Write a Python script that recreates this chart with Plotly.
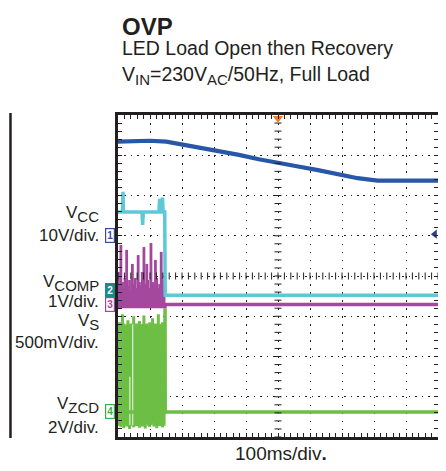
import numpy as np
import plotly.graph_objects as go

# time in ms (100 ms/div, 10 div), amplitude in screen divisions (8 div)
top_t = [0, 99, 151, 192, 254, 316, 378, 440, 502, 563, 625, 687, 749, 811, 873, 1000]
top_v = [3.34, 3.36, 3.34, 3.28, 3.21, 3.11, 3.01, 2.90, 2.80, 2.72, 2.63, 2.53, 2.43, 2.37, 2.37, 2.37]

vcc_t = [0, 14, 15.5, 17, 75, 77, 79, 128, 130, 132, 137, 139, 141, 146, 147.5, 149, 1000]
vcc_v = [1.59, 1.59, 2.09, 1.59, 1.59, 1.27, 1.59, 1.59, 1.92, 1.59, 1.59, 1.95, 1.59, 1.59, -0.48, -0.48, -0.48]

vcomp_t = [0, 147, 148, 1000]
vcomp_v = [-0.76, -0.76, -0.71, -0.71]

vzcd_t = [0, 146, 147, 147.5, 1000]
vzcd_v = [-3.38, -3.38, -0.80, -3.38, -3.38]

# switching burst before the shutdown (sampled envelopes)
burst_t = [1, 5, 9, 14, 18, 22, 27, 31, 36, 40, 45, 49, 54, 58, 63, 67, 72, 76, 81, 85,
           90, 94, 99, 103, 108, 112, 117, 121, 126, 130, 135, 139, 144]
comp_hi = [0.10, -0.20, 0.77, -0.15, -0.30, -0.05, 0.65, -0.25, -0.10, -0.35, 0.30, -0.20,
           -0.05, -0.30, 0.52, -0.15, -0.25, 0.10, 0.72, -0.20, 0.30, -0.10, -0.30, 0.82,
           -0.15, -0.25, 0.40, -0.05, -0.30, -0.20, 0.60, -0.10, -0.35]
comp_lo = -0.78
zcd_hi = [-1.20, -1.15, -1.22, -0.95, -1.18, -1.25, -1.20, -1.10, -1.22, -1.18, -1.20, -1.00,
          -1.24, -1.18, -1.20, -1.12, -1.22, -1.19, -0.98, -1.21, -1.18, -1.24, -1.15, -1.20,
          -1.05, -1.22, -1.18, -1.20, -0.95, -1.23, -1.19, -1.15, -1.20]
zcd_lo = [-3.72, -3.66, -3.75, -3.70, -3.78, -3.68, -3.74, -3.70, -3.80, -3.66, -3.72, -3.76,
          -3.69, -3.73, -3.70, -3.77, -3.67, -3.74, -3.71, -3.79, -3.68, -3.72, -3.75, -3.70,
          -3.66, -3.74, -3.71, -3.78, -3.69, -3.73, -3.70, -3.76, -3.72]
streak_t = [37, 46]
streak_lo = [-3.7, -3.7]
streak_top = [-2.5, -1.2]

ch_labels = ["1", "2", "3", "4"]
ch_levels = [1.0, -0.37, -0.72, -3.37]
trig_t = 500
trig_level = 1.04

BLUE = "#2857A8"
CYAN = "#5EC8D6"
MAGENTA = "#A4489E"
GREEN = "#6DBE45"
INK = "#231F20"


def segments(ts, lo, hi):
    if not isinstance(lo, list):
        lo = [lo] * len(ts)
    xs, ys = [], []
    for t, a, b in zip(ts, lo, hi):
        xs += [t, t, None]
        ys += [a, b, None]
    return xs, ys


def sub(s, size):
    return "<sub><span style='font-size:%dpx'>%s</span></sub>" % (size, s)


fig = go.Figure()

gx, gy = segments(burst_t, zcd_lo, zcd_hi)
fig.add_trace(go.Scatter(x=gx, y=gy, mode="lines", line=dict(color=GREEN, width=3)))
sx, sy = segments(streak_t, streak_lo, streak_top)
fig.add_trace(go.Scatter(x=sx, y=sy, mode="lines", line=dict(color="rgba(255,255,255,0.7)", width=1.3)))
fig.add_trace(go.Scatter(x=vzcd_t, y=vzcd_v, mode="lines", line=dict(color=GREEN, width=3.5)))

mx, my = segments(burst_t, comp_lo, comp_hi)
fig.add_trace(go.Scatter(x=mx, y=my, mode="lines", line=dict(color=MAGENTA, width=2.8)))
fig.add_trace(go.Scatter(x=vcomp_t, y=vcomp_v, mode="lines", line=dict(color=MAGENTA, width=3.5)))

fig.add_trace(go.Scatter(x=vcc_t, y=vcc_v, mode="lines", line=dict(color=CYAN, width=3.5)))
fig.add_trace(go.Scatter(x=top_t, y=top_v, mode="lines", line=dict(color=BLUE, width=4.2)))

# graticule centre cross ticks
cx = np.arange(0, 1001, 20)
cy = np.arange(-4, 4.01, 0.2)
fig.add_trace(go.Scatter(x=cx, y=[0] * len(cx), mode="markers",
                         marker=dict(symbol="line-ns-open", size=5, color=INK, line=dict(color=INK, width=1))))
fig.add_trace(go.Scatter(x=[trig_t] * len(cy), y=cy, mode="markers",
                         marker=dict(symbol="line-ew-open", size=5, color=INK, line=dict(color=INK, width=1))))

# trigger position / level markers
fig.add_trace(go.Scatter(x=[trig_t], y=[3.92], mode="markers", cliponaxis=False,
                         marker=dict(symbol="triangle-down", size=9, color="#F47B20")))
fig.add_trace(go.Scatter(x=[990], y=[trig_level], mode="markers", cliponaxis=False,
                         marker=dict(symbol="triangle-left", size=8, color="#2B3F8E")))

ch_styles = [
    dict(bordercolor="#3A4A9A", bgcolor="white", font=dict(color="#3A4A9A", size=10)),
    dict(bordercolor="#1B8A8C", bgcolor="#1B8A8C", font=dict(color="white", size=10)),
    dict(bordercolor=MAGENTA, bgcolor="white", font=dict(color=MAGENTA, size=10)),
    dict(bordercolor="#3FAE49", bgcolor="white", font=dict(color="#3FAE49", size=10)),
]
for lab, lev, st in zip(ch_labels, ch_levels, ch_styles):
    fig.add_annotation(x=-0.025, y=lev, xref="paper", yref="y", text="<b>" + lab + "</b>",
                       showarrow=False, xanchor="center", yanchor="middle",
                       borderwidth=1.2, borderpad=1, **st)

# titles
fig.add_annotation(x=0.006, y=1.276, xref="paper", yref="paper", text="<b>OVP</b>", showarrow=False,
                   xanchor="left", yanchor="middle", font=dict(size=24, color=INK))
fig.add_annotation(x=0.006, y=1.207, xref="paper", yref="paper", text="LED Load Open then Recovery",
                   showarrow=False, xanchor="left", yanchor="middle", font=dict(size=19.5, color=INK))
fig.add_annotation(x=0.006, y=1.122, xref="paper", yref="paper",
                   text="V" + sub("IN", 15) + "=230V" + sub("AC", 15) + "/50Hz, Full Load",
                   showarrow=False, xanchor="left", yanchor="middle", font=dict(size=19.5, color=INK))

side_text = ["V" + sub("CC", 15), "10V/div.", "V" + sub("COMP", 15), "1V/div.",
             "V" + sub("S", 15), "500mV/div.", "V" + sub("ZCD", 15), "2V/div."]
side_y = [0.693, 0.627, 0.478, 0.420, 0.357, 0.292, 0.100, 0.031]
for txt, yy in zip(side_text, side_y):
    fig.add_annotation(x=-0.053, y=yy, xref="paper", yref="paper", text=txt, showarrow=False,
                       xanchor="right", yanchor="middle", font=dict(size=17, color=INK))

fig.add_annotation(x=0.508, y=-0.05, xref="paper", yref="paper", text="100ms/div<b>.</b>",
                   showarrow=False, xanchor="center", yanchor="middle", font=dict(size=19, color=INK))

# edge of the neighbouring scope frame
fig.add_shape(type="line", xref="paper", yref="paper", x0=-0.336, x1=-0.336, y0=-0.003, y1=1.006,
              line=dict(color=INK, width=2.5))

fig.update_xaxes(range=[0, 1000], dtick=100, showticklabels=False, zeroline=False,
                 showgrid=True, gridcolor=INK, gridwidth=1.3, griddash="1.5px,6.55px",
                 showline=True, linewidth=3, linecolor=INK, mirror="ticks",
                 ticks="inside", ticklen=4, tickcolor=INK,
                 minor=dict(dtick=20, ticks="inside", ticklen=4, tickcolor=INK, showgrid=False))
fig.update_yaxes(range=[-4, 4], dtick=1, showticklabels=False, zeroline=False,
                 showgrid=True, gridcolor=INK, gridwidth=1.3, griddash="1.5px,4.96px",
                 showline=True, linewidth=3, linecolor=INK, mirror="ticks",
                 ticks="inside", ticklen=4, tickcolor=INK,
                 minor=dict(dtick=0.2, ticks="inside", ticklen=4, tickcolor=INK, showgrid=False))

# the page adds an 8px body margin, so the figure is 8px smaller than the window
fig.update_layout(
    width=438, height=463,
    margin=dict(l=110, r=5, t=107, b=34),
    paper_bgcolor="white", plot_bgcolor="white",
    showlegend=False,
    font=dict(family="Liberation Sans, Arial, sans-serif", color=INK),
)

fig.write_html("out.html")
